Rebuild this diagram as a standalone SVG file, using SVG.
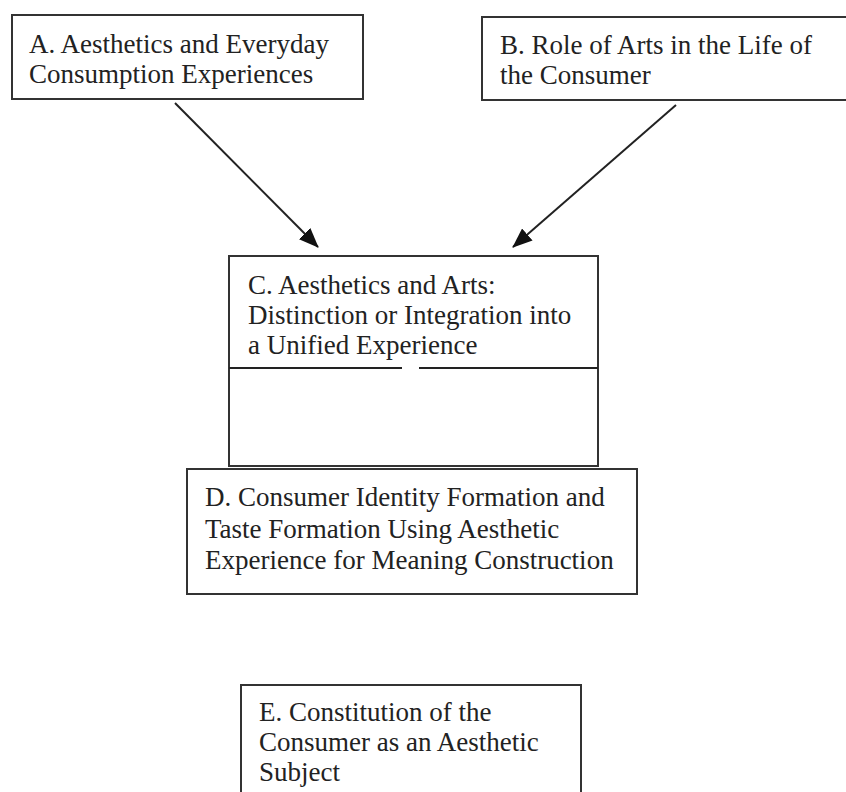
<svg xmlns="http://www.w3.org/2000/svg" width="846" height="792" viewBox="0 0 846 792">
<defs>
<style>
.box{fill:#fff;stroke:#333;stroke-width:2}
.t{font-family:"Liberation Serif","Times New Roman",serif;font-size:27px;fill:#222}
.c{stroke:#222;stroke-width:2;fill:none}
</style>
<marker id="ah" viewBox="0 0 20 16" refX="19" refY="8" markerWidth="20" markerHeight="16" markerUnits="userSpaceOnUse" orient="auto">
<path d="M0,0 L20,8 L0,16 Z" fill="#111"/>
</marker>
</defs>
<rect width="846" height="792" fill="#fff"/>
<g id="nodeA">
<rect class="box" x="12" y="15" width="351" height="84"/>
<text class="t" x="29" y="53">A. Aesthetics and Everyday</text>
<text class="t" x="29" y="83">Consumption Experiences</text>
</g>
<g id="nodeB">
<rect class="box" x="482" y="17" width="370" height="83"/>
<text class="t" x="500" y="54">B. Role of Arts in the Life of</text>
<text class="t" x="500" y="84">the Consumer</text>
</g>
<g id="nodeC">
<rect class="box" x="229" y="256" width="369" height="210"/>
<line class="c" x1="229" y1="368" x2="402" y2="368" stroke="#333"/>
<line class="c" x1="419" y1="368" x2="598" y2="368" stroke="#333"/>
<text class="t" x="248" y="294">C. Aesthetics and Arts:</text>
<text class="t" x="248" y="324">Distinction or Integration into</text>
<text class="t" x="248" y="354">a Unified Experience</text>
</g>
<g id="nodeD">
<rect class="box" x="187" y="469" width="450" height="125"/>
<text class="t" x="205" y="506">D. Consumer Identity Formation and</text>
<text class="t" x="205" y="538">Taste Formation Using Aesthetic</text>
<text class="t" x="205" y="569">Experience for Meaning Construction</text>
</g>
<g id="nodeE">
<rect class="box" x="241" y="685" width="340" height="130"/>
<text class="t" x="259" y="721">E. Constitution of the</text>
<text class="t" x="259" y="751">Consumer as an Aesthetic</text>
<text class="t" x="259" y="781">Subject</text>
</g>
<g id="connectors">
<line class="c" x1="175" y1="103" x2="318" y2="247" marker-end="url(#ah)"/>
<line class="c" x1="676" y1="105" x2="513" y2="247" marker-end="url(#ah)"/>
</g>
</svg>
